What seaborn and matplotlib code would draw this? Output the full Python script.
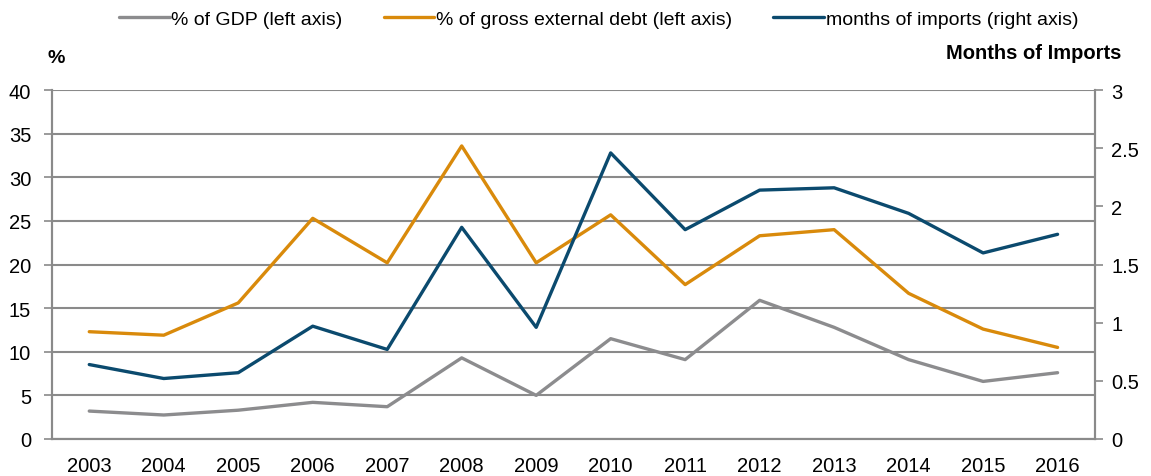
import pandas as pd
import matplotlib.pyplot as plt
import seaborn as sns

# Data
years = [2003, 2004, 2005, 2006, 2007, 2008, 2009, 2010, 2011, 2012, 2013, 2014, 2015, 2016]
pct_gdp = [3.2, 2.75, 3.3, 4.2, 3.7, 9.3, 5.0, 11.5, 9.1, 15.9, 12.8, 9.1, 6.6, 7.6]
pct_ext_debt = [12.3, 11.9, 15.6, 25.3, 20.2, 33.6, 20.2, 25.7, 17.7, 23.3, 24.0, 16.7, 12.6, 10.5]
months_imports = [0.64, 0.52, 0.57, 0.97, 0.77, 1.82, 0.96, 2.46, 1.80, 2.14, 2.16, 1.94, 1.60, 1.76]

df = pd.DataFrame({"year": years, "gdp": pct_gdp, "debt": pct_ext_debt, "months": months_imports})

sns.set_style("white")
plt.rcParams['font.family'] = ['Liberation Sans', 'DejaVu Sans']
plt.rcParams['text.color'] = 'black'
plt.rcParams['xtick.labelcolor'] = 'black'
plt.rcParams['ytick.labelcolor'] = 'black'

gray = "#8C8C8E"
orange = "#D98A0B"
navy = "#0B4A6E"
axis_col = "#8A8A8A"

fig = plt.figure(figsize=(11.51, 4.77), dpi=100)
ax = fig.add_axes([0.0452, 0.0776, 0.906, 0.7314])

sns.lineplot(data=df, x="year", y="gdp", ax=ax, color=gray, lw=2.4, label="% of GDP (left axis)")
sns.lineplot(data=df, x="year", y="debt", ax=ax, color=orange, lw=2.4, label="% of gross external debt (left axis)")

ax2 = ax.twinx()
sns.lineplot(data=df, x="year", y="months", ax=ax2, color=navy, lw=2.4, label="months of imports (right axis)")

ax.set_xlim(years[0] - 0.5, years[-1] + 0.5)
ax.set_ylim(0, 40)
ax.set_yticks(range(0, 41, 5))
ax2.set_ylim(0, 3)
ax2.set_yticks([0, 0.5, 1, 1.5, 2, 2.5, 3])
ax2.set_yticklabels(["0", "0.5", "1", "1.5", "2", "2.5", "3"])

# category boundaries as tick marks, years as labels
ax.set_xticks([y - 0.5 for y in years] + [years[-1] + 0.5])
ax.set_xticklabels([])
ax.set_xticks(years, minor=True)
ax.set_xticklabels([str(y) for y in years], minor=True)
ax.tick_params(axis="x", which="major", length=6, color=axis_col, width=1.2, direction="out")
ax.tick_params(axis="x", which="minor", length=0, labelsize=14.5, pad=12)
ax.tick_params(axis="y", length=6, color=axis_col, width=1.2, direction="out", labelsize=14.5, pad=9)
ax2.tick_params(axis="y", length=6, color=axis_col, width=1.2, direction="out", labelsize=14.5, pad=6)

ax.grid(axis="y", color=axis_col, lw=1.5)
ax.set_axisbelow(True)
for a in (ax, ax2):
    a.spines["top"].set_visible(False)
    for s in ("left", "right", "bottom"):
        a.spines[s].set_color(axis_col)
        a.spines[s].set_linewidth(1.5)
ax.set_xlabel("")
ax.set_ylabel("")
ax2.set_ylabel("")

fig.text(0.041, 0.878, "%", fontsize=14, fontweight="bold", ha="left", va="center")
fig.text(0.974, 0.888, "Months of Imports", fontsize=14.5, fontweight="bold", ha="right", va="center")

h1, l1 = ax.get_legend_handles_labels()
h2, l2 = ax2.get_legend_handles_labels()
ax.get_legend().remove()
ax2.get_legend().remove()
fig.legend(h1 + h2, l1 + l2, loc="center", bbox_to_anchor=(0.52, 0.958), ncol=3, frameon=False,
           fontsize=14, handlelength=2.6, handletextpad=0.1, columnspacing=2.1)

plt.savefig("out.png", dpi=100)
